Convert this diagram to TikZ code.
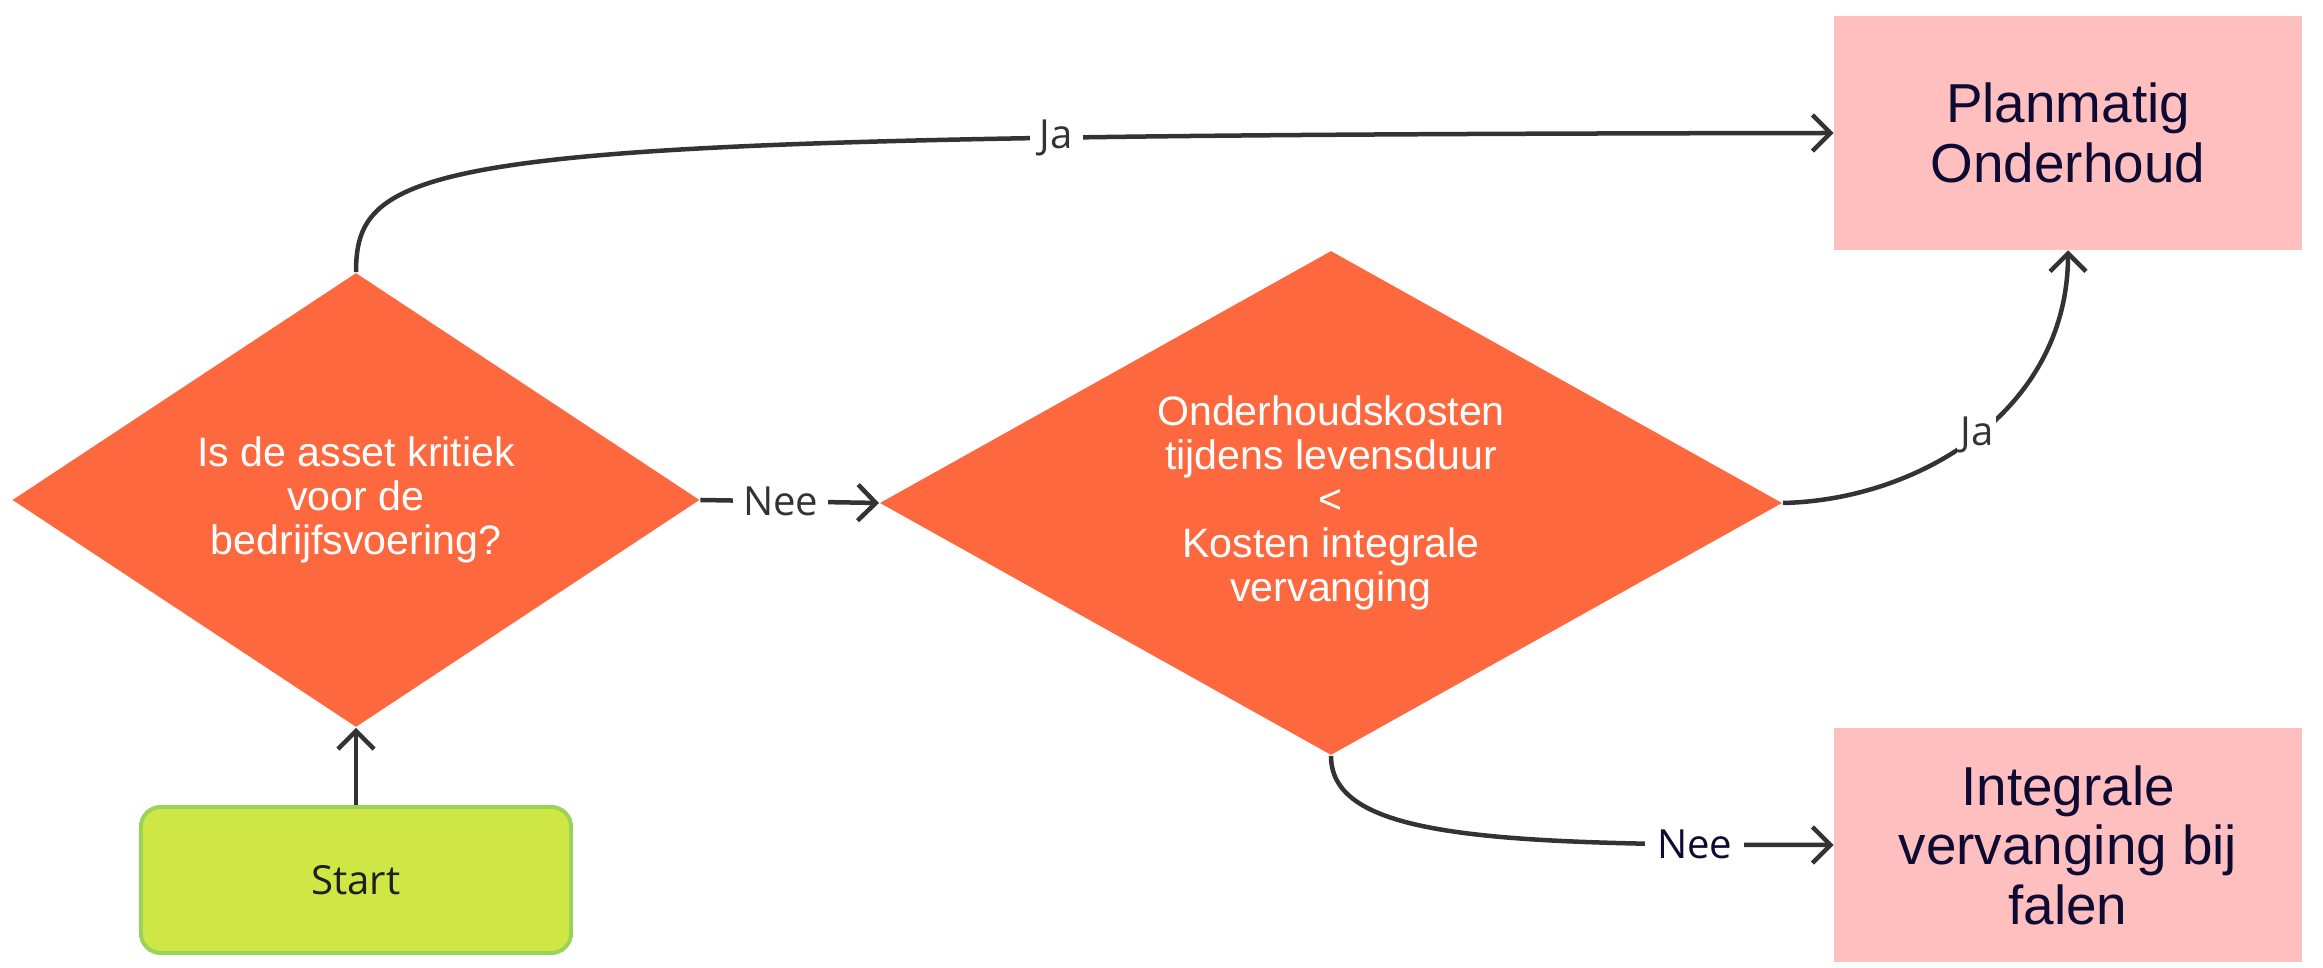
\documentclass[tikz,border=0pt]{standalone}
\usepackage{fontspec}
\setmainfont{Liberation Sans}
\newfontfamily\lblfont{Open Sans}
\usetikzlibrary{shapes.geometric,arrows.meta}
\definecolor{dia}{HTML}{FE683F}
\definecolor{boxc}{HTML}{FFBFBF}
\definecolor{startfill}{HTML}{CFE744}
\definecolor{startdraw}{HTML}{9BD35A}
\definecolor{conncol}{HTML}{333333}
\definecolor{navy}{HTML}{0D0A33}
\tikzset{
  decision/.style={diamond, fill=dia, text=white, inner sep=0pt, align=center,
    font=\fontsize{11.7pt}{12.5pt}\selectfont},
  result/.style={rectangle, fill=boxc, text=navy, align=center, inner sep=0pt,
    minimum width=4.67cm, minimum height=2.33cm,
    font=\fontsize{15.6pt}{16.9pt}\selectfont},
  startbox/.style={rectangle, rounded corners=0.2cm, fill=startfill, draw=startdraw,
    line width=0.04cm, minimum width=4.30cm, minimum height=1.46cm,
    font=\lblfont\fontsize{11.4pt}{13pt}\selectfont, text=black!88},
  conn/.style={draw=conncol, line width=0.045cm,
    -{Straight Barb[length=0.18cm, width=0.36cm]}},
  lbl/.style={fill=white, inner xsep=0.1cm, inner ysep=0.03cm,
    font=\lblfont\fontsize{11.4pt}{13pt}\selectfont, text=conncol},
}
\begin{document}
\begin{tikzpicture}[x=0.01cm, y=-0.01cm]
\useasboundingbox (0,0) rectangle (2323,968);

\node[decision, minimum width=6.87cm, minimum height=4.54cm, aspect=1.51] (d1) at (356,500)
  {Is de asset kritiek\\voor de\\bedrijfsvoering?};
\node[decision, minimum width=9.02cm, minimum height=5.04cm, aspect=1.79] (d2) at (1331,503)
  {Onderhoudskosten\\tijdens levensduur\\<\\Kosten integrale\\vervanging};
\node[result] (P) at (2068,133) {Planmatig\\Onderhoud};
\node[result] (I) at (2068,845) {Integrale\\vervanging bij\\falen};
\node[startbox] (S) at (356,880) {Start};

\draw[conn] (S.north) -- (d1.south);
\draw[conn] (d1.east) -- (d2.west) node[lbl, pos=0.45] {Nee};
\draw[conn] (d1.north) .. controls (356,150) and (450,135) .. (P.west)
  node[lbl, pos=0.765] {Ja};
\draw[conn] (d2.east) .. controls (1920,500) and (2068,410) .. (P.south)
  node[lbl, pos=0.5, inner xsep=0.03cm] {Ja};
\draw[conn] (d2.south) .. controls (1331,840) and (1500,845) .. (I.west)
  node[lbl, pos=0.85, text=navy, inner xsep=0.12cm] {Nee};
\end{tikzpicture}
\end{document}
